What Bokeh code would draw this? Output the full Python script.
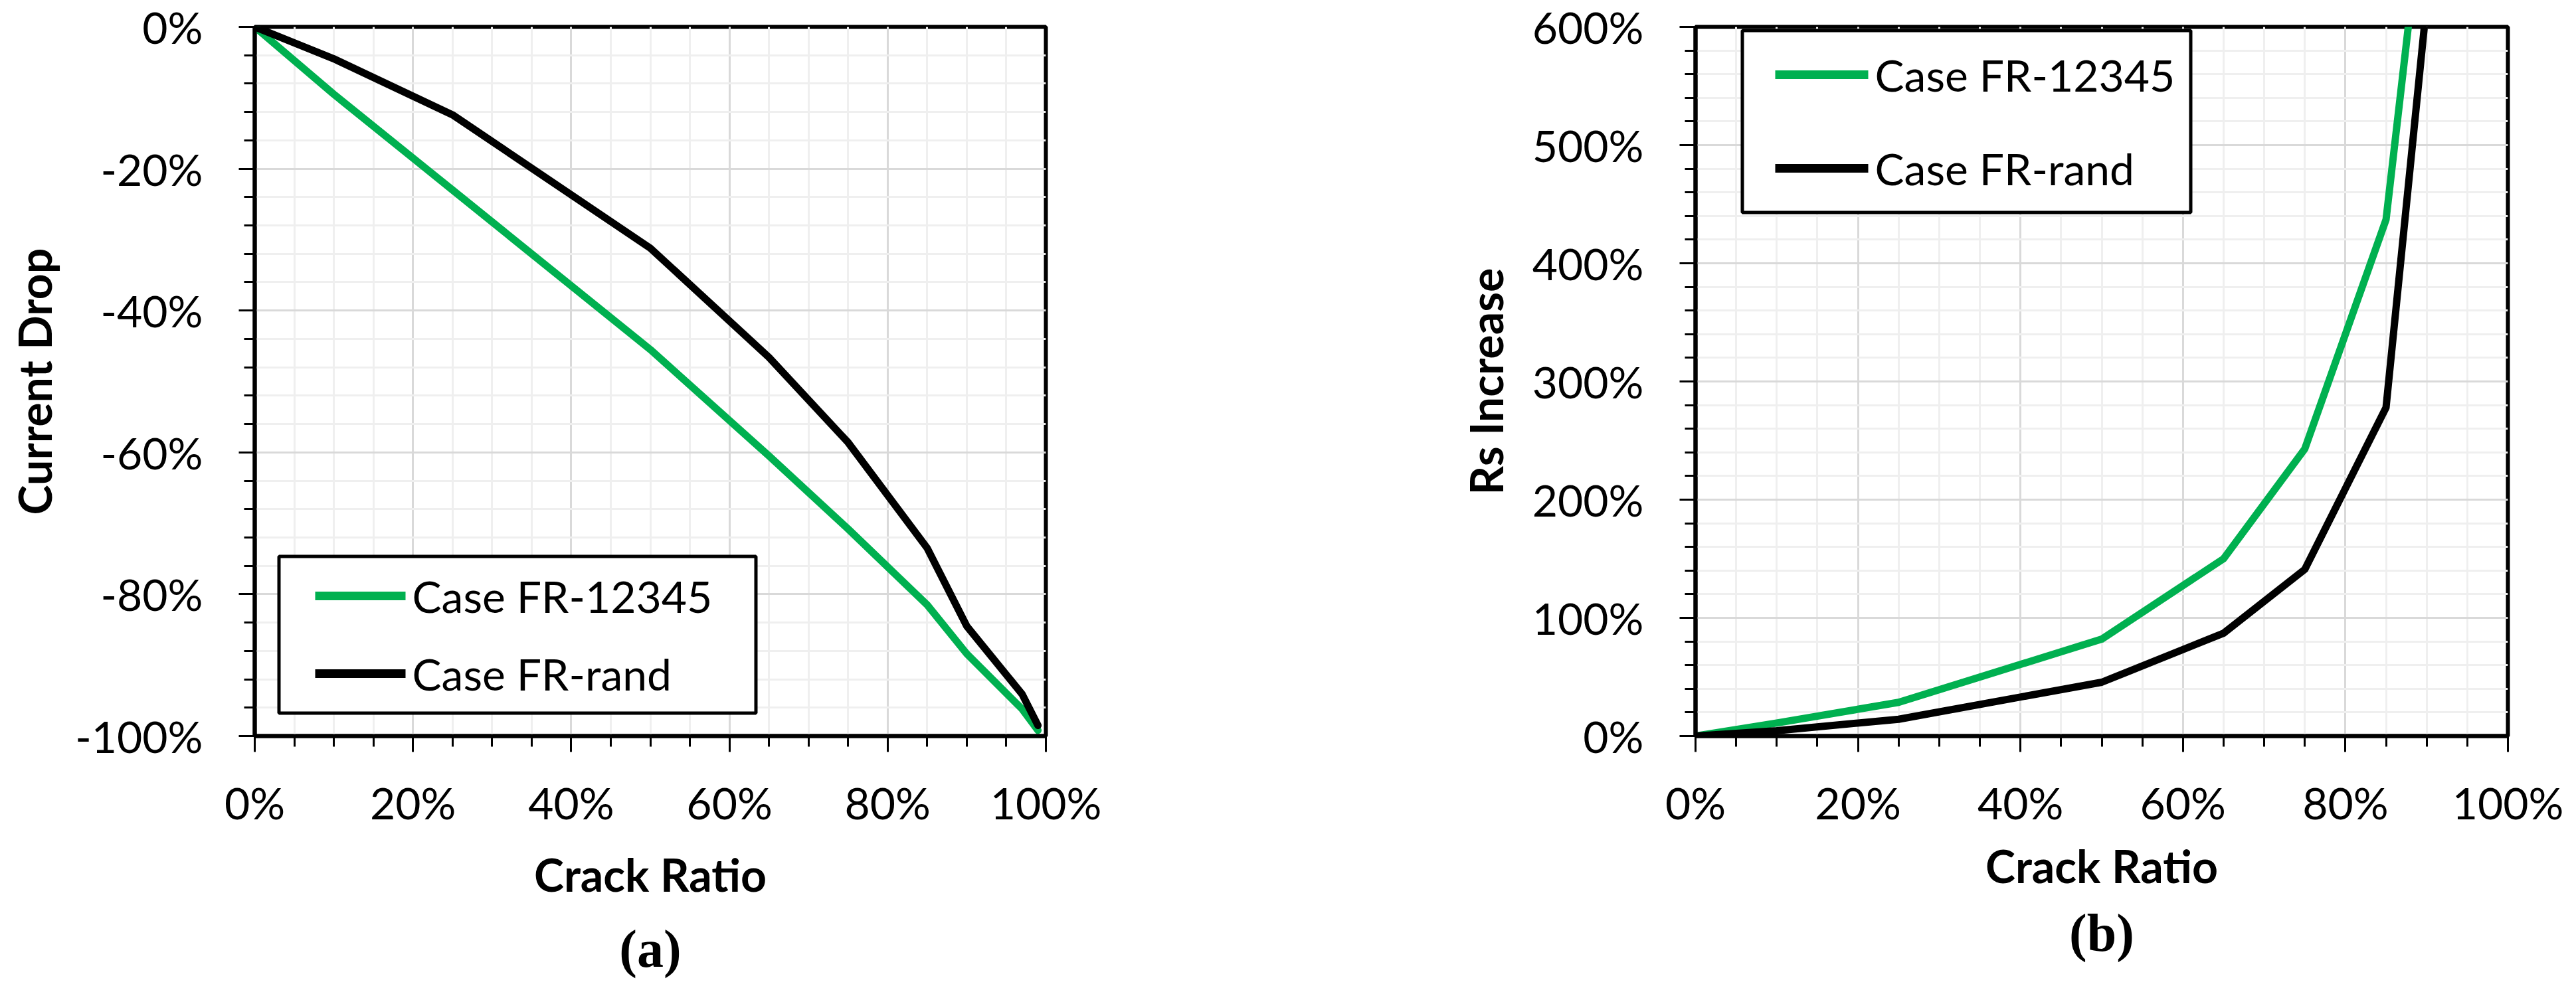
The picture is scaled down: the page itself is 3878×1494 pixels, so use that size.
from bokeh.plotting import figure
from bokeh.layouts import row
from bokeh.models import FixedTicker, PrintfTickFormatter, Label, BoxAnnotation, Range1d, Title
from bokeh.embed import file_html
from bokeh.resources import INLINE

# ---------------- data ----------------
series_names = ["Case FR-12345", "Case FR-rand"]
series_colors = ["#00b050", "#000000"]

crack_a = [0, 10, 25, 50, 65, 75, 85, 90, 97, 99]
drop_green = [0, -9.5, -23.0, -45.5, -60.5, -70.8, -81.5, -88.4, -96.2, -99.2]
drop_black = [0, -4.5, -12.4, -31.2, -46.6, -58.6, -73.5, -84.5, -94.1, -98.5]

crack_b = [0, 10, 25, 50, 65, 75, 85, 90]
rs_green = [0, 11.0, 28.5, 82.0, 150.0, 243.0, 437.0, 735.0]
rs_black = [0, 4.5, 14.2, 45.5, 87.0, 141.0, 278.0, 620.0]

x_ticks = [0, 20, 40, 60, 80, 100]
y_ticks_a = [-100, -80, -60, -40, -20, 0]
y_ticks_b = [0, 100, 200, 300, 400, 500, 600]

FONT = "Lato"
SERIF = "Liberation Serif"
H = 1478


def make_fig(width, left, right, top, bottom, yr, yticks, yminor, ylabel, ystand):
    p = figure(width=width, height=H, x_range=Range1d(0, 100), y_range=Range1d(*yr),
               output_backend="svg", toolbar_location=None,
               min_border_left=left, min_border_right=right,
               min_border_top=top, min_border_bottom=bottom)
    p.background_fill_color = "white"
    p.border_fill_color = "white"
    p.outline_line_color = "black"
    p.outline_line_width = 6
    p.outline_line_alpha = 1.0

    p.xaxis.ticker = FixedTicker(ticks=x_ticks, minor_ticks=list(range(0, 101, 5)))
    p.yaxis.ticker = FixedTicker(ticks=yticks, minor_ticks=yminor)
    for ax in (p.xaxis[0], p.yaxis[0]):
        ax.formatter = PrintfTickFormatter(format="%d%%")
        ax.axis_line_width = 6
        ax.axis_line_color = "black"
        ax.major_tick_line_width = 3
        ax.minor_tick_line_width = 3
        ax.major_tick_line_color = "black"
        ax.minor_tick_line_color = "black"
        ax.major_tick_in = 0
        ax.minor_tick_in = 0
        ax.major_tick_out = 24
        ax.minor_tick_out = 16
        ax.major_label_text_font = FONT
        ax.major_label_text_font_size = "66px"
        ax.major_label_text_color = "black"
    p.xaxis.major_label_standoff = 36
    p.yaxis.major_label_standoff = 54
    p.yaxis.axis_label = ylabel
    p.yaxis.axis_label_text_font = FONT
    p.yaxis.axis_label_text_font_size = "68px"
    p.yaxis.axis_label_text_font_style = "bold"
    p.yaxis.axis_label_text_color = "black"
    p.yaxis.axis_label_standoff = ystand

    for g in (p.xgrid[0], p.ygrid[0]):
        g.grid_line_color = "#d9d9d9"
        g.grid_line_width = 3
        g.minor_grid_line_color = "#efefef"
        g.minor_grid_line_width = 3
    return p


def add_legend(p, box, line_x, line_ys, text_x):
    l, r, b, t = box
    p.add_layout(BoxAnnotation(left=l, right=r, bottom=b, top=t,
                               left_units="screen", right_units="screen",
                               bottom_units="screen", top_units="screen",
                               fill_color="white", fill_alpha=1.0,
                               line_color="black", line_width=5, line_alpha=1.0))
    for name, color, yy in zip(series_names, series_colors, line_ys):
        p.add_layout(BoxAnnotation(left=line_x[0], right=line_x[1], bottom=yy - 6.5, top=yy + 6.5,
                                   left_units="screen", right_units="screen",
                                   bottom_units="screen", top_units="screen",
                                   fill_color=color, fill_alpha=1.0, line_alpha=0))
        p.add_layout(Label(x=text_x, y=yy, x_units="screen", y_units="screen", text=name,
                           text_font=FONT, text_font_size="66px", text_color="black",
                           text_baseline="middle", text_align="left"))


def add_below_titles(p, xtitle, xoff, xstand, cap, capoff, capstand):
    p.add_layout(Title(text=xtitle, align="center", offset=xoff, standoff=xstand,
                       text_font=FONT, text_font_size="68px", text_font_style="bold",
                       text_color="black"), "below")
    p.add_layout(Title(text=cap, align="center", offset=capoff, standoff=capstand,
                       text_font=SERIF, text_font_size="80px", text_font_style="bold",
                       text_color="black"), "below")


# ---------------- chart (a) ----------------
pa = make_fig(1930, 383, 356, 40, 370, (-100, 0), y_ticks_a, list(range(-100, 1, 4)),
              "Current Drop", 18)
pa.line(crack_a, drop_green, line_color=series_colors[0], line_width=11,
        line_join="round", line_cap="round")
pa.line(crack_a, drop_black, line_color=series_colors[1], line_width=11,
        line_join="round", line_cap="round")
add_legend(pa, (36.5, 754.5, 34.5, 270.5), (91, 227), (211, 94), 237)
add_below_titles(pa, "Crack Ratio", -51, 46, "(a)", -187, 6)

# ---------------- chart (b) ----------------
pb = make_fig(1932, 622, 87, 34, 349, (0, 600), y_ticks_b, list(range(0, 601, 20)),
              "Rs Increase", 27)
pb.line(crack_b, rs_green, line_color=series_colors[0], line_width=11,
        line_join="round", line_cap="round")
pb.line(crack_b, rs_black, line_color=series_colors[1], line_width=11,
        line_join="round", line_cap="round")
add_legend(pb, (70.5, 745.5, 788.5, 1062.5), (120, 260), (996, 855), 270)
add_below_titles(pb, "Crack Ratio", -84, 20, "(b)", -140, 11)

layout = row(pa, pb)
open("out.html", "w").write(file_html(layout, INLINE))
